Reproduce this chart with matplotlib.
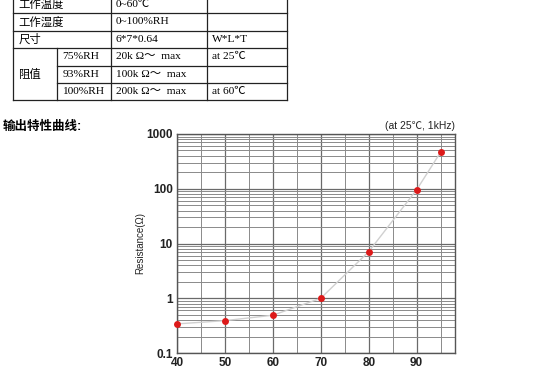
import matplotlib
matplotlib.use('Agg')
import matplotlib.pyplot as plt
from matplotlib.ticker import FixedLocator, LogLocator, NullFormatter

# ---------------------------------------------------------------------------
# Data
# ---------------------------------------------------------------------------
humidity = [40, 50, 60, 70, 80, 90, 95]              # %RH
resistance = [0.34, 0.39, 0.49, 1.0, 7.1, 96, 465]    # kOhm
x_ticks = [40, 50, 60, 70, 80, 90]
y_ticks = [0.1, 1, 10, 100, 1000]
y_tick_labels = ['0.1', '1', '10', '100', '1000']

spec_names = ['工作温度', '工作湿度', '尺寸']
spec_values = ['0~60℃', '0~100%RH', '6*7*0.64']
spec_notes = ['', '', 'W*L*T']
res_label = '阻值'
res_rh = ['75%RH', '93%RH', '100%RH']
res_values = ['20k Ω～  max', '100k Ω～  max', '200k Ω～  max']
res_notes = ['at 25℃', '', 'at 60℃']

SERIF = ['Liberation Serif', 'Noto Sans CJK SC', 'DejaVu Sans']
SANS = ['Liberation Sans', 'Noto Sans CJK SC', 'DejaVu Sans']

W, H = 543, 371
fig = plt.figure(figsize=(W / 100, H / 100), dpi=100)

# ---------------------------------------------------------------------------
# Table + heading drawn on a pixel-space overlay
# ---------------------------------------------------------------------------
ov = fig.add_axes([0, 0, 1, 1])
ov.set_xlim(0, W)
ov.set_ylim(H, 0)
ov.axis('off')

col_x = [13.3, 57.3, 111, 207.3, 287.3]
row_h = 17.4
row_y = [13.3 - row_h + i * row_h for i in range(7)]
lc = '#222222'
lw = 0.9

# horizontal rules
for i, y in enumerate(row_y):
    if i in (4, 5):
        ov.plot([col_x[1], col_x[4]], [y, y], color=lc, lw=lw)
    else:
        ov.plot([col_x[0], col_x[4]], [y, y], color=lc, lw=lw)
# vertical rules
ov.plot([col_x[0], col_x[0]], [row_y[0], row_y[6]], color=lc, lw=lw)
ov.plot([col_x[1], col_x[1]], [row_y[3], row_y[6]], color=lc, lw=lw)
for cx in col_x[2:]:
    ov.plot([cx, cx], [row_y[0], row_y[6]], color=lc, lw=lw)

pad = 5
fs_tab = 8.2
for i in range(3):
    yc = (row_y[i] + row_y[i + 1]) / 2
    ov.text(col_x[0] + pad, yc, spec_names[i], family=SERIF, fontsize=fs_tab, va='center', ha='left')
    ov.text(col_x[2] + pad, yc, spec_values[i], family=SERIF, fontsize=fs_tab, va='center', ha='left')
    ov.text(col_x[3] + pad, yc, spec_notes[i], family=SERIF, fontsize=fs_tab, va='center', ha='left')
ov.text(col_x[0] + pad, (row_y[3] + row_y[6]) / 2, res_label, family=SERIF,
        fontsize=fs_tab, va='center', ha='left')
for i in range(3):
    yc = (row_y[i + 3] + row_y[i + 4]) / 2
    ov.text(col_x[1] + pad, yc, res_rh[i], family=SERIF, fontsize=fs_tab, va='center', ha='left')
    ov.text(col_x[2] + pad, yc, res_values[i], family=SERIF, fontsize=fs_tab, va='center', ha='left')
    ov.text(col_x[3] + pad, yc, res_notes[i], family=SERIF, fontsize=fs_tab, va='center', ha='left')

ov.text(3, 127, '输出特性曲线:', family=SANS, fontsize=9, fontweight='bold', va='center', ha='left')

# ---------------------------------------------------------------------------
# Characteristic curve
# ---------------------------------------------------------------------------
ax = fig.add_axes([177 / W, 1 - 353 / H, (455 - 177) / W, (353 - 134) / H])
ax.set_yscale('log')
ax.set_xlim(40, 98)
ax.set_ylim(0.1, 1000)

ax.xaxis.set_major_locator(FixedLocator(x_ticks))
ax.xaxis.set_minor_locator(FixedLocator([45, 55, 65, 75, 85, 95]))
ax.set_xticklabels([str(t) for t in x_ticks])
ax.yaxis.set_major_locator(FixedLocator(y_ticks))
ax.set_yticklabels(y_tick_labels)
ax.yaxis.set_minor_locator(LogLocator(base=10, subs=range(2, 10)))
ax.yaxis.set_minor_formatter(NullFormatter())

ax.grid(True, which='major', color='#6a6a6a', lw=0.9)
ax.grid(True, which='minor', color='#8a8a8a', lw=0.7)
ax.tick_params(which='both', length=0, labelsize=8.5, colors='#222222', pad=3)
for lab in ax.get_xticklabels() + ax.get_yticklabels():
    lab.set_family(SANS)
    lab.set_fontweight('bold')
for sp in ax.spines.values():
    sp.set_color('#555555')
    sp.set_linewidth(1.0)

ax.plot(humidity, resistance, color='#d0d0d0', lw=1.0, zorder=3, clip_on=False)
ax.plot(humidity, resistance, 'o', color='#dd1a1a', ms=5, mec='none', zorder=4, clip_on=False)

ax.set_ylabel('Resistance(Ω)', family=SANS, fontsize=7, color='#222222')
ax.yaxis.set_label_coords(-0.115, 0.5)
ax.text(1.0, 1.015, '(at 25℃, 1kHz)', transform=ax.transAxes, ha='right', va='bottom',
        family=SANS, fontsize=7.5, color='#222222')

fig.savefig('out.png', dpi=100)
